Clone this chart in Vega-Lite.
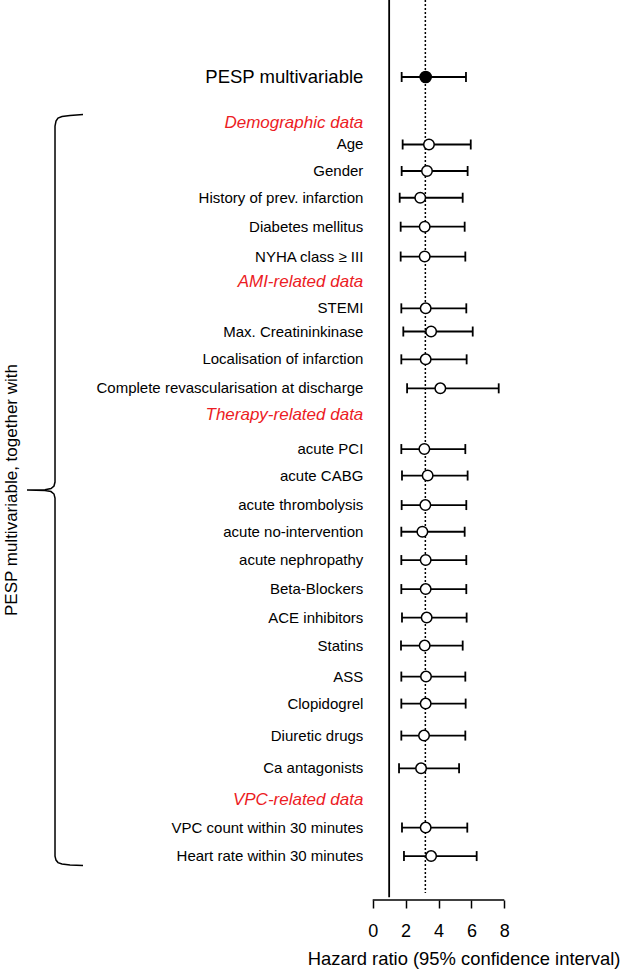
{
  "$schema": "https://vega.github.io/schema/vega-lite/v6.json",
  "width": 620,
  "height": 900,
  "autosize": {"type": "none"},
  "padding": {"left": 0, "top": 0, "right": 0, "bottom": 80},
  "background": "white",
  "config": {"view": {"stroke": null}, "font": "Liberation Sans", "text": {"font": "Liberation Sans"},
    "axisX": {"domain": false, "grid": false, "tickSize": 8, "tickWidth": 1.5, "tickColor": "black",
              "labelFontSize": 18, "labelColor": "black", "labelPadding": 14, "labelFont": "Liberation Sans",
              "titleFontSize": 18.4, "titleFontWeight": "normal", "titleColor": "black", "titleFont": "Liberation Sans",
              "titleAnchor": "end", "titlePadding": 9}},
  "datasets": {
    "rows": [
      {"label": "PESP multivariable", "kind": "main", "row": 0, "lo": 1.76, "hr": 3.22, "hi": 5.67},
      {"label": "Demographic data", "kind": "header", "row": 1.643},
      {"label": "Age", "kind": "item", "row": 2.41, "lo": 1.82, "hr": 3.42, "hi": 5.96},
      {"label": "Gender", "kind": "item", "row": 3.357, "lo": 1.76, "hr": 3.30, "hi": 5.77},
      {"label": "History of prev. infarction", "kind": "item", "row": 4.311, "lo": 1.64, "hr": 2.89, "hi": 5.47},
      {"label": "Diabetes mellitus", "kind": "item", "row": 5.346, "lo": 1.70, "hr": 3.16, "hi": 5.59},
      {"label": "NYHA class ≥ III", "kind": "item", "row": 6.411, "lo": 1.70, "hr": 3.16, "hi": 5.63},
      {"label": "AMI-related data", "kind": "header", "row": 7.304},
      {"label": "STEMI", "kind": "item", "row": 8.261, "lo": 1.74, "hr": 3.22, "hi": 5.69},
      {"label": "Max. Creatininkinase", "kind": "item", "row": 9.089, "lo": 1.86, "hr": 3.55, "hi": 6.08},
      {"label": "Localisation of infarction", "kind": "item", "row": 10.082, "lo": 1.74, "hr": 3.22, "hi": 5.71},
      {"label": "Complete revascularisation at discharge", "kind": "item", "row": 11.118, "lo": 2.09, "hr": 4.11, "hi": 7.66},
      {"label": "Therapy-related data", "kind": "header", "row": 12.054},
      {"label": "acute PCI", "kind": "item", "row": 13.286, "lo": 1.74, "hr": 3.14, "hi": 5.63},
      {"label": "acute CABG", "kind": "item", "row": 14.232, "lo": 1.78, "hr": 3.34, "hi": 5.77},
      {"label": "acute thrombolysis", "kind": "item", "row": 15.286, "lo": 1.76, "hr": 3.20, "hi": 5.69},
      {"label": "acute no-intervention", "kind": "item", "row": 16.239, "lo": 1.74, "hr": 3.02, "hi": 5.59},
      {"label": "acute nephropathy", "kind": "item", "row": 17.25, "lo": 1.74, "hr": 3.22, "hi": 5.69},
      {"label": "Beta-Blockers", "kind": "item", "row": 18.286, "lo": 1.74, "hr": 3.22, "hi": 5.69},
      {"label": "ACE inhibitors", "kind": "item", "row": 19.304, "lo": 1.78, "hr": 3.28, "hi": 5.71},
      {"label": "Statins", "kind": "item", "row": 20.304, "lo": 1.72, "hr": 3.16, "hi": 5.47},
      {"label": "ASS", "kind": "item", "row": 21.411, "lo": 1.74, "hr": 3.24, "hi": 5.63},
      {"label": "Clopidogrel", "kind": "item", "row": 22.375, "lo": 1.74, "hr": 3.22, "hi": 5.65},
      {"label": "Diuretic drugs", "kind": "item", "row": 23.518, "lo": 1.74, "hr": 3.12, "hi": 5.63},
      {"label": "Ca antagonists", "kind": "item", "row": 24.689, "lo": 1.60, "hr": 2.94, "hi": 5.25},
      {"label": "VPC-related data", "kind": "header", "row": 25.821},
      {"label": "VPC count within 30 minutes", "kind": "item", "row": 26.804, "lo": 1.78, "hr": 3.22, "hi": 5.75},
      {"label": "Heart rate within 30 minutes", "kind": "item", "row": 27.821, "lo": 1.90, "hr": 3.55, "hi": 6.32}
    ],
    "brace": [
      {"i": 1, "bx": -17.611, "by": 1.339},
      {"i": 2, "bx": -18.401, "by": 1.375},
      {"i": 3, "bx": -18.888, "by": 1.411},
      {"i": 4, "bx": -19.131, "by": 1.464},
      {"i": 5, "bx": -19.252, "by": 1.571},
      {"i": 6, "bx": -19.313, "by": 1.75},
      {"i": 7, "bx": -19.313, "by": 14.464},
      {"i": 8, "bx": -19.374, "by": 14.607},
      {"i": 9, "bx": -19.556, "by": 14.696},
      {"i": 10, "bx": -19.921, "by": 14.736},
      {"i": 11, "bx": -21.015, "by": 14.75},
      {"i": 12, "bx": -19.921, "by": 14.764},
      {"i": 13, "bx": -19.556, "by": 14.804},
      {"i": 14, "bx": -19.374, "by": 14.893},
      {"i": 15, "bx": -19.313, "by": 15.036},
      {"i": 16, "bx": -19.313, "by": 27.821},
      {"i": 17, "bx": -19.252, "by": 27.964},
      {"i": 18, "bx": -19.131, "by": 28.054},
      {"i": 19, "bx": -18.888, "by": 28.107},
      {"i": 20, "bx": -18.401, "by": 28.136},
      {"i": 21, "bx": -17.611, "by": 28.161}
    ]
  },
  "layer": [
    {
      "data": {"name": "rows"},
      "transform": [{"filter": "datum.kind !== 'header'"}],
      "mark": {"type": "rule", "color": "black", "strokeWidth": 1.8},
      "encoding": {
        "x": {"field": "lo", "type": "quantitative", "title": "Hazard ratio (95% confidence interval)",
              "scale": {"domain": [-22.657, 15.033], "nice": false, "zero": false},
              "axis": {"values": [0, 2, 4, 6, 8]}},
        "x2": {"field": "hi"},
        "y": {"field": "row", "type": "quantitative", "scale": {"domain": [-2.75, 29.39], "nice": false, "zero": false, "reverse": true}, "axis": null}
      }
    },
    {
      "data": {"name": "rows"},
      "transform": [{"filter": "datum.kind !== 'header'"}],
      "mark": {"type": "tick", "orient": "vertical", "size": 10, "thickness": 1.8, "color": "black", "opacity": 1},
      "encoding": {
        "x": {"field": "lo", "type": "quantitative", "title": "Hazard ratio (95% confidence interval)", "scale": {"domain": [-22.657, 15.033], "nice": false, "zero": false}, "axis": {"values": [0, 2, 4, 6, 8]}},
        "y": {"field": "row", "type": "quantitative", "scale": {"domain": [-2.75, 29.39], "nice": false, "zero": false, "reverse": true}, "axis": null}
      }
    },
    {
      "data": {"name": "rows"},
      "transform": [{"filter": "datum.kind !== 'header'"}],
      "mark": {"type": "tick", "orient": "vertical", "size": 10, "thickness": 1.8, "color": "black", "opacity": 1},
      "encoding": {
        "x": {"field": "hi", "type": "quantitative", "title": "Hazard ratio (95% confidence interval)", "scale": {"domain": [-22.657, 15.033], "nice": false, "zero": false}, "axis": {"values": [0, 2, 4, 6, 8]}},
        "y": {"field": "row", "type": "quantitative", "scale": {"domain": [-2.75, 29.39], "nice": false, "zero": false, "reverse": true}, "axis": null}
      }
    },
    {
      "data": {"values": [{}]},
      "mark": {"type": "rule", "color": "black", "strokeWidth": 1.8},
      "encoding": {
        "x": {"datum": 1, "type": "quantitative", "title": "Hazard ratio (95% confidence interval)", "scale": {"domain": [-22.657, 15.033], "nice": false, "zero": false}, "axis": {"values": [0, 2, 4, 6, 8]}},
        "y": {"datum": -2.75, "type": "quantitative", "scale": {"domain": [-2.75, 29.39], "nice": false, "zero": false, "reverse": true}, "axis": null},
        "y2": {"datum": 29.29}
      }
    },
    {
      "data": {"values": [{}]},
      "mark": {"type": "rule", "color": "black", "strokeWidth": 1.5, "strokeDash": [2, 2]},
      "encoding": {
        "x": {"datum": 3.2, "type": "quantitative", "title": "Hazard ratio (95% confidence interval)", "scale": {"domain": [-22.657, 15.033], "nice": false, "zero": false}, "axis": {"values": [0, 2, 4, 6, 8]}},
        "y": {"datum": -2.75, "type": "quantitative", "scale": {"domain": [-2.75, 29.39], "nice": false, "zero": false, "reverse": true}, "axis": null},
        "y2": {"datum": 29.14}
      }
    },
    {
      "data": {"values": [{}]},
      "mark": {"type": "rule", "color": "black", "strokeWidth": 1.5},
      "encoding": {
        "x": {"datum": 0, "type": "quantitative", "title": "Hazard ratio (95% confidence interval)", "scale": {"domain": [-22.657, 15.033], "nice": false, "zero": false}, "axis": {"values": [0, 2, 4, 6, 8]}},
        "x2": {"datum": 8},
        "y": {"datum": 29.39, "type": "quantitative", "scale": {"domain": [-2.75, 29.39], "nice": false, "zero": false, "reverse": true}, "axis": null}
      }
    },
    {
      "data": {"name": "rows"},
      "transform": [{"filter": "datum.kind === 'item'"}],
      "mark": {"type": "circle", "fill": "white", "stroke": "black", "strokeWidth": 1.5, "size": 110, "opacity": 1, "fillOpacity": 1},
      "encoding": {
        "x": {"field": "hr", "type": "quantitative", "title": "Hazard ratio (95% confidence interval)", "scale": {"domain": [-22.657, 15.033], "nice": false, "zero": false}, "axis": {"values": [0, 2, 4, 6, 8]}},
        "y": {"field": "row", "type": "quantitative", "scale": {"domain": [-2.75, 29.39], "nice": false, "zero": false, "reverse": true}, "axis": null}
      }
    },
    {
      "data": {"name": "rows"},
      "transform": [{"filter": "datum.kind === 'main'"}],
      "mark": {"type": "circle", "fill": "black", "stroke": "black", "strokeWidth": 1.5, "size": 125, "opacity": 1},
      "encoding": {
        "x": {"field": "hr", "type": "quantitative", "title": "Hazard ratio (95% confidence interval)", "scale": {"domain": [-22.657, 15.033], "nice": false, "zero": false}, "axis": {"values": [0, 2, 4, 6, 8]}},
        "y": {"field": "row", "type": "quantitative", "scale": {"domain": [-2.75, 29.39], "nice": false, "zero": false, "reverse": true}, "axis": null}
      }
    },
    {
      "data": {"name": "rows"},
      "transform": [{"filter": "datum.kind === 'item'"}],
      "mark": {"type": "text", "align": "right", "baseline": "middle", "fontSize": 15, "color": "black", "font": "Liberation Sans"},
      "encoding": {
        "x": {"datum": -0.57, "type": "quantitative", "title": "Hazard ratio (95% confidence interval)", "scale": {"domain": [-22.657, 15.033], "nice": false, "zero": false}, "axis": {"values": [0, 2, 4, 6, 8]}},
        "y": {"field": "row", "type": "quantitative", "scale": {"domain": [-2.75, 29.39], "nice": false, "zero": false, "reverse": true}, "axis": null},
        "text": {"field": "label"}
      }
    },
    {
      "data": {"name": "rows"},
      "transform": [{"filter": "datum.kind === 'main'"}],
      "mark": {"type": "text", "align": "right", "baseline": "middle", "fontSize": 18.5, "color": "black", "font": "Liberation Sans"},
      "encoding": {
        "x": {"datum": -0.57, "type": "quantitative", "title": "Hazard ratio (95% confidence interval)", "scale": {"domain": [-22.657, 15.033], "nice": false, "zero": false}, "axis": {"values": [0, 2, 4, 6, 8]}},
        "y": {"field": "row", "type": "quantitative", "scale": {"domain": [-2.75, 29.39], "nice": false, "zero": false, "reverse": true}, "axis": null},
        "text": {"field": "label"}
      }
    },
    {
      "data": {"name": "rows"},
      "transform": [{"filter": "datum.kind === 'header'"}],
      "mark": {"type": "text", "align": "right", "baseline": "middle", "fontSize": 17, "fontStyle": "italic", "color": "#ec1c24", "font": "Liberation Sans"},
      "encoding": {
        "x": {"datum": -0.57, "type": "quantitative", "title": "Hazard ratio (95% confidence interval)", "scale": {"domain": [-22.657, 15.033], "nice": false, "zero": false}, "axis": {"values": [0, 2, 4, 6, 8]}},
        "y": {"field": "row", "type": "quantitative", "scale": {"domain": [-2.75, 29.39], "nice": false, "zero": false, "reverse": true}, "axis": null},
        "text": {"field": "label"}
      }
    },
    {
      "data": {"name": "brace"},
      "mark": {"type": "line", "color": "black", "strokeWidth": 1.5},
      "encoding": {
        "x": {"field": "bx", "type": "quantitative", "title": "Hazard ratio (95% confidence interval)", "scale": {"domain": [-22.657, 15.033], "nice": false, "zero": false}, "axis": {"values": [0, 2, 4, 6, 8]}},
        "y": {"field": "by", "type": "quantitative", "scale": {"domain": [-2.75, 29.39], "nice": false, "zero": false, "reverse": true}, "axis": null},
        "order": {"field": "i", "type": "quantitative"}
      }
    },
    {
      "data": {"values": [{"t": "PESP multivariable, together with"}]},
      "mark": {"type": "text", "align": "center", "baseline": "middle", "angle": 270, "fontSize": 17, "color": "black", "font": "Liberation Sans"},
      "encoding": {
        "x": {"datum": -21.927, "type": "quantitative", "title": "Hazard ratio (95% confidence interval)", "scale": {"domain": [-22.657, 15.033], "nice": false, "zero": false}, "axis": {"values": [0, 2, 4, 6, 8]}},
        "y": {"datum": 14.75, "type": "quantitative", "scale": {"domain": [-2.75, 29.39], "nice": false, "zero": false, "reverse": true}, "axis": null},
        "text": {"field": "t"}
      }
    }
  ]
}
